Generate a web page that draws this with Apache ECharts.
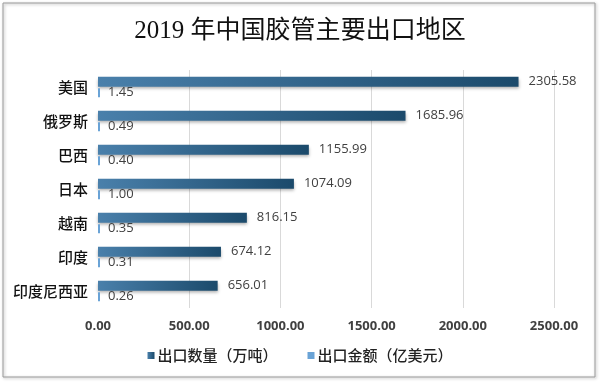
<!DOCTYPE html>
<html>
<head>
<meta charset="utf-8">
<script src="https://cdn.jsdelivr.net/npm/echarts@6/dist/echarts.min.js"></script>
<style>
html,body{margin:0;padding:0;background:#fff;}
#c{width:600px;height:382px;}
</style>
</head>
<body>
<div id="c"></div>
<script>
const titleText = '2019 年中国胶管主要出口地区';
const categories = ['美国', '俄罗斯', '巴西', '日本', '越南', '印度', '印度尼西亚'];
const quantity = [2305.58, 1685.96, 1155.99, 1074.09, 816.15, 674.12, 656.01];
const amount = [1.45, 0.49, 0.40, 1.00, 0.35, 0.31, 0.26];
const seriesNames = ['出口数量（万吨）', '出口金额（亿美元）'];
const xTicks = [0, 500, 1000, 1500, 2000, 2500];

const chart = echarts.init(document.getElementById('c'), null, {renderer: 'canvas'});
const labelStyle = {show: true, position: 'right', color: '#404040', fontSize: 13,
  fontFamily: "'Open Sans','Noto Sans',sans-serif",
  formatter: p => Number(p.value).toFixed(2)};

chart.setOption({
  animation: false,
  backgroundColor: '#fff',
  graphic: [{
    type: 'rect', shape: {x: 3, y: 3, width: 592, height: 374},
    style: {fill: 'none', stroke: '#9a9a9a', lineWidth: 1,
      shadowBlur: 3, shadowColor: 'rgba(0,0,0,0.35)', shadowOffsetX: 1, shadowOffsetY: 1},
    z: -1, silent: true
  }],
  title: {
    text: titleText, left: 'center', top: 19, padding: 0,
    textStyle: {fontFamily: "'Liberation Serif','Noto Sans CJK SC',serif", fontSize: 25,
      fontWeight: 'normal', color: '#111'}
  },
  legend: {
    bottom: 14, left: 'center', icon: 'rect', itemWidth: 7, itemHeight: 7, itemGap: 30,
    textStyle: {fontSize: 15, color: '#222', fontWeight: 500, padding: [0, 0, 0, -2],
      fontFamily: "'Noto Sans CJK SC',sans-serif"},
    data: seriesNames
  },
  grid: {left: 98, right: 46, top: 70, bottom: 74, containLabel: false},
  xAxis: {
    type: 'value', min: xTicks[0], max: xTicks[xTicks.length - 1], interval: 500,
    axisLine: {show: false}, axisTick: {show: false},
    axisLabel: {fontSize: 13, fontWeight: 'bold', color: '#404040', margin: 12,
      fontFamily: "'Open Sans','Noto Sans',sans-serif",
      formatter: v => v.toFixed(2)},
    splitLine: {show: true, showMinLine: false, lineStyle: {color: '#d9d9d9', width: 1}}
  },
  yAxis: {
    type: 'category', data: categories, inverse: true,
    axisLine: {show: false}, axisTick: {show: false},
    axisLabel: {fontSize: 15, color: '#111', fontWeight: 500, margin: 10,
      fontFamily: "'Noto Sans CJK SC',sans-serif"}
  },
  series: [
    {
      name: seriesNames[0], type: 'bar', data: quantity, barWidth: 10, barGap: '15%',
      itemStyle: {
        color: {type: 'linear', x: 0, y: 0, x2: 1, y2: 0, colorStops: [
          {offset: 0, color: '#4a80ab'}, {offset: 1, color: '#1b4a6b'}]},
        shadowColor: 'rgba(0,0,0,0.3)', shadowBlur: 3, shadowOffsetY: 2
      },
      label: Object.assign({}, labelStyle, {distance: 10})
    },
    {
      name: seriesNames[1], type: 'bar', data: amount, barWidth: 9, barMinHeight: 2,
      itemStyle: {color: '#6aa3d6'},
      label: Object.assign({}, labelStyle, {distance: 8})
    }
  ]
});
</script>
</body>
</html>
